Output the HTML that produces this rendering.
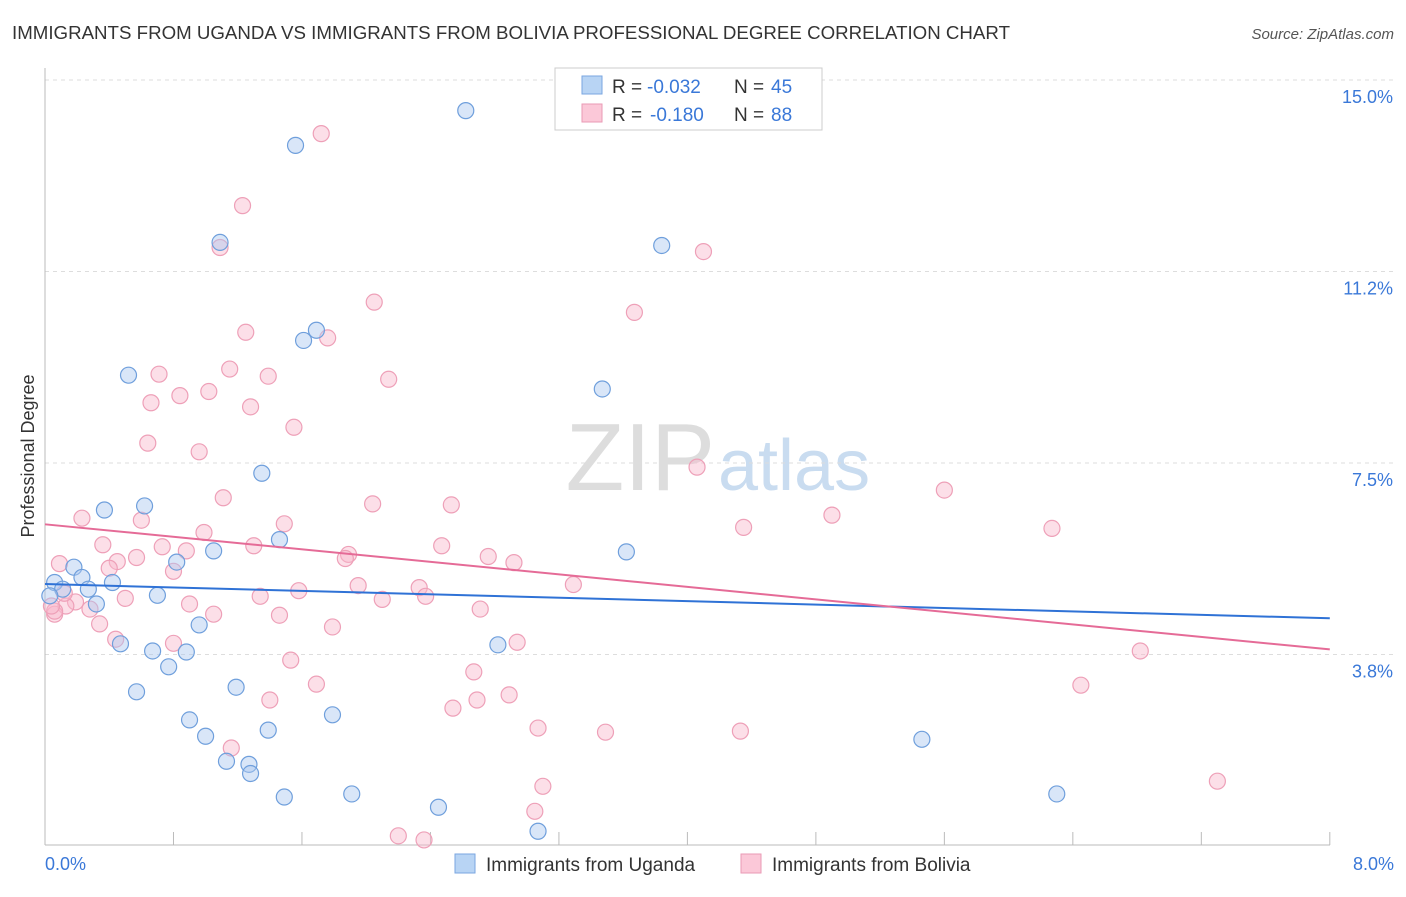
<!DOCTYPE html>
<html><head><meta charset="utf-8"><style>
body{margin:0;background:#fff;font-family:"Liberation Sans",sans-serif;}
svg text{font-family:"Liberation Sans",sans-serif;}
</style></head><body>
<svg width="1406" height="892" id="chart">
<text x="12" y="39" font-size="18" fill="#333" textLength="998" lengthAdjust="spacingAndGlyphs">IMMIGRANTS FROM UGANDA VS IMMIGRANTS FROM BOLIVIA PROFESSIONAL DEGREE CORRELATION CHART</text>
<text x="1394" y="39" font-size="15" fill="#555" text-anchor="end" font-style="italic">Source: ZipAtlas.com</text>
<text x="715" y="490" font-size="96" fill="#ddd" text-anchor="end" font-family="Liberation Serif">ZIP</text>
<text x="718" y="490" font-size="72" fill="#c9dcf0">atlas</text>
<g id="grid"></g><g id="axes"></g><g id="pts"></g><g id="lines"></g>
<text x="34" y="456" font-size="18" fill="#333" text-anchor="middle" transform="rotate(-90 34 456)">Professional Degree</text>
<text x="45" y="870" font-size="18" fill="#3a78d8">0.0%</text>
<text x="1394" y="870" font-size="18" fill="#3a78d8" text-anchor="end">8.0%</text>
<g>
<rect x="555" y="68" width="267" height="62" fill="#fff" stroke="#ccc"/>
<rect x="582" y="76" width="20" height="18" fill="#b8d4f4" stroke="#7aa6e0"/>
<rect x="582" y="104" width="20" height="18" fill="#fbc8d8" stroke="#e99ab5"/>
<text x="612" y="93" font-size="19" fill="#333">R =</text>
<text x="647" y="93" font-size="19" fill="#3a78d8">-0.032</text>
<text x="734" y="93" font-size="19" fill="#333">N =</text>
<text x="771" y="93" font-size="19" fill="#3a78d8">45</text>
<text x="612" y="121" font-size="19" fill="#333">R =</text>
<text x="650" y="121" font-size="19" fill="#3a78d8">-0.180</text>
<text x="734" y="121" font-size="19" fill="#333">N =</text>
<text x="771" y="121" font-size="19" fill="#3a78d8">88</text>
</g>
<g>
<rect x="455" y="854" width="20" height="19" fill="#b8d4f4" stroke="#7aa6e0"/>
<text x="486" y="871" font-size="19" fill="#333">Immigrants from Uganda</text>
<rect x="741" y="854" width="20" height="19" fill="#fbc8d8" stroke="#e99ab5"/>
<text x="772" y="871" font-size="19" fill="#333">Immigrants from Bolivia</text>
</g>
</svg>
<script>
const yTicks=[15.0,11.25,7.5,3.75];
const yTickLabels=["15.0%","11.2%","7.5%","3.8%"];
const uganda=[[2.62,14.4],[1.56,13.72],[1.09,11.82],[3.84,11.76],[1.69,10.10],[1.61,9.90],[0.52,9.22],[3.47,8.95],[1.35,7.30],[0.37,6.58],[0.62,6.66],[1.46,6.0],[1.05,5.78],[3.62,5.76],[0.82,5.56],[0.18,5.46],[0.23,5.26],[0.06,5.16],[0.42,5.16],[0.11,5.03],[0.27,5.03],[0.70,4.91],[0.32,4.74],[0.96,4.33],[0.47,3.96],[0.67,3.82],[0.88,3.80],[2.82,3.94],[0.77,3.51],[0.57,3.02],[1.19,3.11],[0.90,2.47],[1.79,2.57],[1.00,2.15],[1.39,2.27],[5.46,2.09],[1.13,1.66],[1.27,1.60],[1.28,1.42],[1.49,0.96],[1.91,1.02],[2.45,0.76],[6.30,1.02],[3.07,0.29],[0.03,4.90]];
const bolivia=[[1.72,13.95],[1.23,12.54],[1.09,11.72],[4.10,11.64],[2.05,10.65],[3.67,10.45],[1.25,10.06],[1.76,9.95],[1.15,9.34],[0.71,9.24],[1.39,9.20],[2.14,9.14],[0.84,8.82],[1.02,8.90],[0.66,8.68],[1.28,8.60],[1.55,8.20],[0.64,7.89],[0.96,7.72],[4.06,7.42],[1.11,6.82],[5.60,6.97],[2.04,6.70],[2.53,6.68],[0.23,6.42],[0.60,6.38],[4.35,6.24],[4.90,6.48],[6.27,6.22],[1.49,6.31],[0.99,6.14],[0.36,5.90],[0.73,5.86],[2.47,5.88],[0.88,5.78],[1.30,5.88],[0.09,5.53],[0.45,5.57],[0.57,5.65],[2.76,5.67],[2.92,5.55],[1.89,5.71],[1.87,5.63],[0.40,5.44],[0.80,5.38],[1.95,5.10],[3.29,5.12],[2.33,5.06],[1.58,5.00],[1.34,4.89],[2.37,4.89],[2.10,4.83],[0.50,4.85],[0.19,4.78],[0.13,4.70],[0.90,4.74],[0.28,4.64],[1.05,4.54],[1.46,4.52],[2.71,4.64],[0.06,4.54],[0.34,4.35],[1.79,4.29],[0.44,4.05],[2.94,3.99],[0.80,3.97],[1.53,3.64],[6.82,3.82],[2.67,3.41],[1.69,3.17],[6.45,3.15],[1.40,2.86],[2.69,2.86],[2.89,2.96],[2.54,2.70],[3.07,2.31],[3.49,2.23],[4.33,2.25],[1.16,1.92],[3.10,1.17],[7.30,1.27],[3.05,0.68],[2.20,0.20],[2.36,0.12],[0.06,4.60],[0.12,4.95],[0.04,4.70]];
const ugandaTrend=[[0,5.13],[8,4.46]];
const boliviaTrend=[[0,6.30],[8,3.85]];
const X=v=>45+v*160.6, Y=v=>80+(15-v)*51.07;
const NS="http://www.w3.org/2000/svg";
function mk(tag,attrs,parent){const e=document.createElementNS(NS,tag);for(const k in attrs)e.setAttribute(k,attrs[k]);document.getElementById(parent).appendChild(e);return e;}
yTicks.forEach((t,i)=>{
 const l=mk('line',{x1:45,x2:1394,y1:Y(t),y2:Y(t),stroke:'#ddd','stroke-dasharray':'4 4'},'grid');
 
 
 const tx=mk('text',{x:1393,y:Y(t)+23,'font-size':18,fill:'#3a78d8','text-anchor':'end'},'grid');
 tx.textContent=yTickLabels[i];
 
 
});
const ax=mk('line',{x1:45,x2:1330,y1:845,y2:845,stroke:'#bbb'},'axes');


const ay=mk('line',{x1:45,x2:45,y1:68,y2:845,stroke:'#bbb'},'axes');


for(let i=0;i<=10;i++){const v=i*0.8;
 const t=mk('line',{x1:X(v),x2:X(v),y1:832,y2:845,stroke:'#bbb'},'axes');
 
 }
bolivia.forEach(p=>{const c=mk('circle',{cx:X(p[0]),cy:Y(p[1]),r:8,fill:'rgba(248,184,204,0.45)',stroke:'#eea0b8','stroke-width':1.2},'pts');
 
 });
uganda.forEach(p=>{const c=mk('circle',{cx:X(p[0]),cy:Y(p[1]),r:8,fill:'rgba(170,200,240,0.45)',stroke:'#6f9fdc','stroke-width':1.2},'pts');
 
 });
const l1=mk('line',{x1:X(ugandaTrend[0][0]),y1:Y(ugandaTrend[0][1]),x2:X(ugandaTrend[1][0]),y2:Y(ugandaTrend[1][1]),stroke:'#2f72d6','stroke-width':2},'lines');


const l2=mk('line',{x1:X(boliviaTrend[0][0]),y1:Y(boliviaTrend[0][1]),x2:X(boliviaTrend[1][0]),y2:Y(boliviaTrend[1][1]),stroke:'#e56b97','stroke-width':2},'lines');


</script>
</body></html>
